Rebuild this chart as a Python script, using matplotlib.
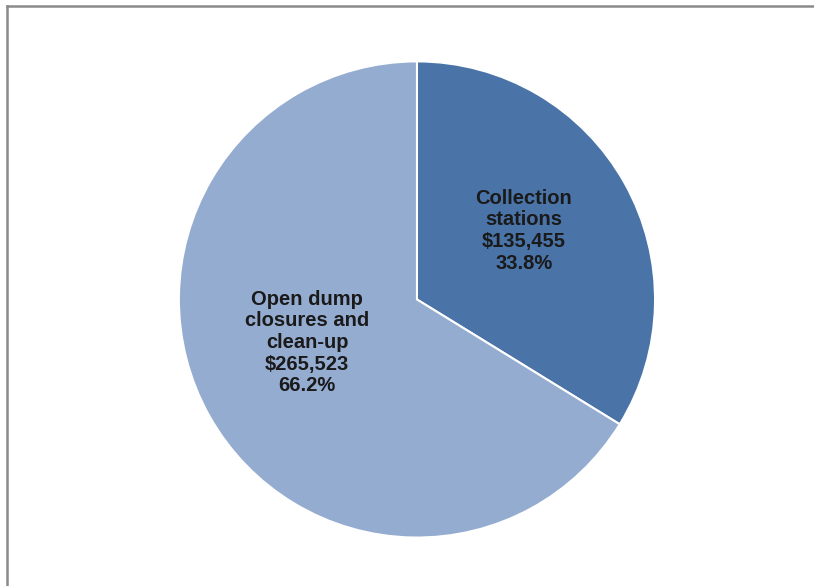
import matplotlib.pyplot as plt
from matplotlib.lines import Line2D

# spending by category
categories = ['Collection\nstations', 'Open dump\nclosures and\nclean-up']
amounts = [135455, 265523]
colors = ['#4a74a8', '#95acd1']

# label anchor points in axes data units (pie radius ~1)
label_pos = [(0.445, 0.286), (-0.458, -0.179)]

plt.rcParams['font.family'] = ['Liberation Sans', 'DejaVu Sans']

fig = plt.figure(figsize=(8.14, 5.86), dpi=100)
fig.patch.set_facecolor('white')

ax = fig.add_axes([0.2174, 0.0794, 0.5897, 0.8191])

radius = 0.992
wedges, _ = ax.pie(amounts, colors=colors, startangle=90, counterclock=False,
                   radius=radius, wedgeprops={'edgecolor': 'white', 'linewidth': 1.5})
# pie() resets the limits, so fix them afterwards
ax.set_xlim(-1, 1)
ax.set_ylim(-1, 1)
ax.set_aspect('equal')
ax.axis('off')

total = sum(amounts)
for cat, amt, (x, y) in zip(categories, amounts, label_pos):
    pct = 100.0 * amt / total
    txt = f"{cat}\n${amt:,}\n{pct:.1f}%"
    ax.text(x, y, txt, ha='center', va='center', fontsize=14.5, fontweight='bold',
            color='#1a1a1a', linespacing=1.18)

# chart frame, only top and left edges visible
fig.add_artist(Line2D([6.5 / 814, 6.5 / 814], [0, 1 - 5.5 / 586], transform=fig.transFigure,
                      color='#8a8a8a', linewidth=1.8))
fig.add_artist(Line2D([6.5 / 814, 1], [1 - 5.5 / 586, 1 - 5.5 / 586], transform=fig.transFigure,
                      color='#8a8a8a', linewidth=1.8))

fig.savefig('out.png', dpi=100, facecolor='white')
